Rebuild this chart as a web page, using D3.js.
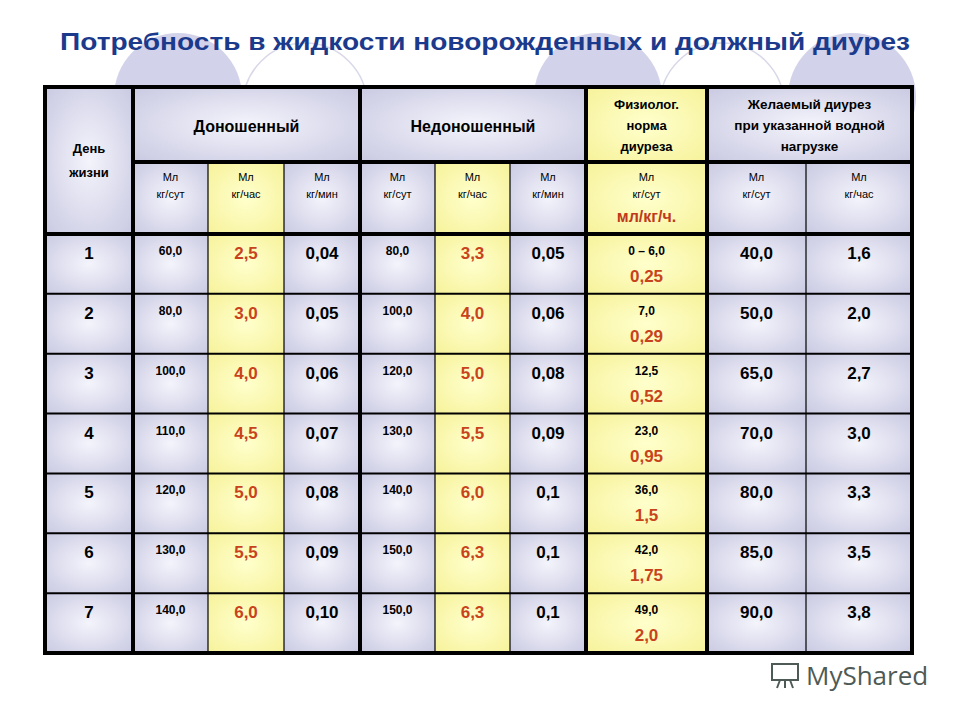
<!DOCTYPE html>
<html><head><meta charset="utf-8">
<script src="https://cdn.jsdelivr.net/npm/d3@7"></script>
<style>body{margin:0;background:#fff}</style>
</head><body><div id="chart"></div>
<script>
const title = "Потребность в жидкости новорожденных и должный диурез";
const days = ["1","2","3","4","5","6","7"];
const fullDay = ["60,0","80,0","100,0","110,0","120,0","130,0","140,0"];
const fullHour = ["2,5","3,0","4,0","4,5","5,0","5,5","6,0"];
const fullMin = ["0,04","0,05","0,06","0,07","0,08","0,09","0,10"];
const preDay = ["80,0","100,0","120,0","130,0","140,0","150,0","150,0"];
const preHour = ["3,3","4,0","5,0","5,5","6,0","6,3","6,3"];
const preMin = ["0,05","0,06","0,08","0,09","0,1","0,1","0,1"];
const physDay = ["0 – 6,0","7,0","12,5","23,0","36,0","42,0","49,0"];
const physHour = ["0,25","0,29","0,52","0,95","1,5","1,75","2,0"];
const wantDay = ["40,0","50,0","65,0","70,0","80,0","85,0","90,0"];
const wantHour = ["1,6","2,0","2,7","3,0","3,3","3,5","3,8"];

const W = 960, H = 720;
const edges = [45,133,208,284,360,435,510,586,707,806,912];
const top0 = 87, hdr1 = 162, hdr2 = 234, bottom = 653;
const lav = "url(#lav)", yel = "url(#yel)";
const yellowCols = [2,5,7];

const svg = d3.select("#chart").append("svg").attr("width", W).attr("height", H)
  .style("font-family", "'Liberation Sans', Arial, sans-serif");
const defs = svg.append("defs");
function grad(id, c0, c1) {
  const g = defs.append("radialGradient").attr("id", id).attr("cx", "50%").attr("cy", "50%").attr("r", "70%");
  g.append("stop").attr("offset", "0%").attr("stop-color", c0);
  g.append("stop").attr("offset", "100%").attr("stop-color", c1);
}
grad("lav", "#f4f4fc", "#c9c9e2");
grad("yel", "#ffffcc", "#f6f29a");

// background circles
[[178,97],[598,97],[852,97]].forEach(c => svg.append("circle").attr("cx", c[0]).attr("cy", c[1]).attr("r", 64).attr("fill", "#d2d2ea"));
[[305,105],[722,105]].forEach(c => svg.append("circle").attr("cx", c[0]).attr("cy", c[1]).attr("r", 62).attr("fill", "none").attr("stroke", "#d8d8e8").attr("stroke-width", 1.5));

svg.append("text").attr("x", 60).attr("y", 50).attr("textLength", 850).attr("lengthAdjust", "spacingAndGlyphs")
  .attr("font-size", 23).attr("font-weight", "bold").attr("fill", "#1b3a8c").text(title);

const y = d3.scaleBand().domain(days).range([hdr2, bottom]);
const cols = [days, fullDay, fullHour, fullMin, preDay, preHour, preMin, physDay, wantDay, wantHour];
const g = svg.append("g");

function cell(x0, x1, y0, y1, fill) {
  g.append("rect").attr("x", x0).attr("y", y0).attr("width", x1 - x0).attr("height", y1 - y0).attr("fill", fill);
}
function txt(x, yy, s, size, color, bold) {
  g.append("text").attr("x", x).attr("y", yy).attr("text-anchor", "middle").attr("font-size", size)
    .attr("font-weight", bold ? "bold" : "normal").attr("fill", color || "#000").text(s);
}
// header
cell(edges[0], edges[1], top0, hdr2, lav);
cell(edges[1], edges[4], top0, hdr1, lav);
cell(edges[4], edges[7], top0, hdr1, lav);
cell(edges[7], edges[8], top0, hdr1, yel);
cell(edges[8], edges[10], top0, hdr1, lav);
for (let c = 1; c < 10; c++) cell(edges[c], edges[c+1], hdr1, hdr2, yellowCols.includes(c) ? yel : lav);
// body
days.forEach(d => {
  for (let c = 0; c < 10; c++) cell(edges[c], edges[c+1], y(d), y(d) + y.bandwidth(), yellowCols.includes(c) ? yel : lav);
});
const mid = (a, b) => (edges[a] + edges[b]) / 2;
txt(mid(0,1), 153, "День", 13, "#000", true);
txt(mid(0,1), 177, "жизни", 13, "#000", true);
txt(mid(1,4), 132, "Доношенный", 16, "#000", true);
txt(mid(4,7), 132, "Недоношенный", 16, "#000", true);
["Физиолог.", "норма", "диуреза"].forEach((s, i) => txt(mid(7,8), 109 + i * 21, s, 13, "#000", true));
["Желаемый диурез", "при указанной водной", "нагрузке"].forEach((s, i) => txt(mid(8,10), 109 + i * 21, s, 13.5, "#000", true));
const subs = ["кг/сут","кг/час","кг/мин","кг/сут","кг/час","кг/мин","кг/сут","кг/сут","кг/час"];
subs.forEach((s, i) => {
  txt(mid(i+1,i+2), 181, "Мл", 11, "#000", false);
  txt(mid(i+1,i+2), 198, s, 11, "#000", false);
});
txt(mid(7,8), 222, "мл/кг/ч.", 16, "#c0391b", true);

const red = "#c8431c";
days.forEach((d, r) => {
  const yy = y(d);
  cols.forEach((arr, c) => {
    const small = [1,4,7].includes(c);
    const redc = [2,5].includes(c);
    txt(mid(c,c+1), yy + (small ? 21 : 25), arr[r], small ? 12 : 17, redc ? red : "#000", true);
  });
  txt(mid(7,8), yy + 48, physHour[r], 17, red, true);
});

// grid lines
const lines = g.append("g");
function hl(x0, x1, yy, w) { lines.append("line").attr("x1", x0).attr("x2", x1).attr("y1", yy).attr("y2", yy).attr("stroke", "#000").attr("stroke-width", w); }
function vl(xx, y0, y1, w) { lines.append("line").attr("x1", xx).attr("x2", xx).attr("y1", y0).attr("y2", y1).attr("stroke", "#000").attr("stroke-width", w); }
hl(edges[1], edges[10], hdr1, 4);
hl(edges[0], edges[10], hdr2, 4);
days.slice(1).forEach(d => hl(edges[0], edges[10], y(d), 2));
[2,3,5,6,9].forEach(c => vl(edges[c], hdr1, bottom, 1.2));
[1,4,7,8].forEach(c => vl(edges[c], top0, bottom, 4));
lines.append("rect").attr("x", edges[0]).attr("y", top0).attr("width", edges[10] - edges[0]).attr("height", bottom - top0)
  .attr("fill", "none").attr("stroke", "#000").attr("stroke-width", 4);

// watermark
const wm = svg.append("g").attr("transform", "translate(770,658)").attr("fill", "none").attr("stroke", "#4e5a55").attr("stroke-width", 2);
wm.append("rect").attr("x", 2).attr("y", 6).attr("width", 26).attr("height", 16);
wm.append("line").attr("x1", 10).attr("x2", 7).attr("y1", 22).attr("y2", 30);
wm.append("line").attr("x1", 15).attr("x2", 15).attr("y1", 22).attr("y2", 30);
wm.append("line").attr("x1", 20).attr("x2", 23).attr("y1", 22).attr("y2", 30);
svg.append("text").attr("x", 806).attr("y", 685).attr("font-size", 26).attr("fill", "#4e5a55")
  .attr("font-family", "'Open Sans', sans-serif").text("MyShared");
</script></body></html>
